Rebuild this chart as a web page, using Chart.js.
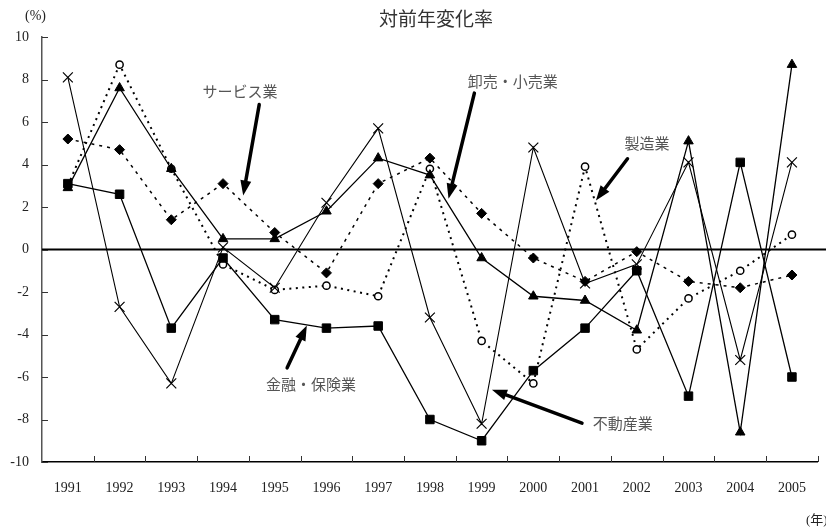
<!DOCTYPE html>
<html>
<head>
<meta charset="utf-8">
<script src="https://cdn.jsdelivr.net/npm/chart.js@4.4.1/dist/chart.umd.min.js"></script>
<style>
  html, body { margin: 0; padding: 0; background: #fff; }
  canvas { display: block; }
</style>
</head>
<body>
<canvas id="chart" width="826" height="531"></canvas>
<script>
// Year-over-year change (%) by industry, 1991–2005
const years = ['1991','1992','1993','1994','1995','1996','1997','1998','1999','2000','2001','2002','2003','2004','2005'];
const manufacturing   = [3.0, 8.7, 3.8, -0.7, -1.9, -1.7, -2.2, 3.8, -4.3, -6.3, 3.9, -4.7, -2.3, -1.0, 0.7];   // 製造業
const services        = [5.2, 4.7, 1.4, 3.1, 0.8, -1.1, 3.1, 4.3, 1.7, -0.4, -1.5, -0.1, -1.5, -1.8, -1.2];   // サービス業
const wholesaleRetail = [2.9, 7.6, 3.8, 0.5, 0.5, 1.8, 4.3, 3.5, -0.4, -2.2, -2.4, -3.8, 5.1, -8.6, 8.7];     // 卸売・小売業
const finance         = [3.1, 2.6, -3.7, -0.4, -3.3, -3.7, -3.6, -8.0, -9.0, -5.7, -3.7, -1.0, -6.9, 4.1, -6.0]; // 金融・保険業
const realEstate      = [8.1, -2.7, -6.3, 0.1, -1.8, 2.2, 5.7, -3.2, -8.2, 4.8, -1.6, -0.7, 4.1, -5.2, 4.1];   // 不動産業
const yTickValues     = [-10, -8, -6, -4, -2, 0, 2, 4, 6, 8, 10];

// Callout labels with arrows, placed in data coordinates [category index, value]
const callouts = [
  { text: 'サービス業',   label: [3.33, 7.44],  tail: [3.70, 6.82],  tip: [3.39, 2.54] },
  { text: '卸売・小売業', label: [8.60, 7.92],  tail: [7.86, 7.36],  tip: [7.36, 2.39] },
  { text: '製造業',       label: [11.20, 5.02], tail: [10.82, 4.27], tip: [10.21, 2.31] },
  { text: '金融・保険業', label: [4.70, -6.35], tail: [4.24, -5.57], tip: [4.62, -3.58] },
  { text: '不動産業',     label: [10.73, -8.20], tail: [9.94, -8.17], tip: [8.20, -6.60] }
];

const JP = "'Noto Sans CJK JP', 'Noto Sans', sans-serif";
const NUM = "'Liberation Serif', 'DejaVu Serif', serif";

const decorations = {
  id: 'decorations',
  afterDraw(chart) {
    const { ctx, chartArea: a, scales: { x, y } } = chart;
    ctx.save();

    // zero reference line
    const y0 = y.getPixelForValue(0);
    ctx.strokeStyle = '#000';
    ctx.lineWidth = 2.2;
    ctx.beginPath();
    ctx.moveTo(a.left, y0);
    ctx.lineTo(chart.width, y0);
    ctx.stroke();

    // inward tick marks on the value axis
    ctx.lineWidth = 1;
    ctx.strokeStyle = '#333';
    yTickValues.forEach(v => {
      const py = Math.round(y.getPixelForValue(v)) + 0.5;
      ctx.beginPath();
      ctx.moveTo(a.left, py);
      ctx.lineTo(a.left + 6, py);
      ctx.stroke();
    });
    // inward tick marks on the year axis, between categories
    for (let i = 0; i < years.length; i++) {
      const px = i < years.length - 1
        ? (x.getPixelForValue(i) + x.getPixelForValue(i + 1)) / 2
        : a.right;
      const rx = Math.round(px) + 0.5;
      ctx.beginPath();
      ctx.moveTo(rx, a.bottom);
      ctx.lineTo(rx, a.bottom - 6);
      ctx.stroke();
    }

    // callout arrows
    ctx.fillStyle = '#000';
    ctx.strokeStyle = '#000';
    callouts.forEach(c => {
      const tx = x.getPixelForValue(c.tail[0]), ty = y.getPixelForValue(c.tail[1]);
      const hx = x.getPixelForValue(c.tip[0]),  hy = y.getPixelForValue(c.tip[1]);
      const ang = Math.atan2(hy - ty, hx - tx);
      const headLen = 15, headHalf = 5.5;
      const bx = hx - headLen * Math.cos(ang), by = hy - headLen * Math.sin(ang);
      ctx.lineWidth = 3.5;
      ctx.lineCap = 'round';
      ctx.beginPath();
      ctx.moveTo(tx, ty);
      ctx.lineTo(bx, by);
      ctx.stroke();
      ctx.beginPath();
      ctx.moveTo(hx, hy);
      ctx.lineTo(bx + headHalf * Math.sin(ang), by - headHalf * Math.cos(ang));
      ctx.lineTo(bx - headHalf * Math.sin(ang), by + headHalf * Math.cos(ang));
      ctx.closePath();
      ctx.fill();
    });

    // callout labels
    ctx.fillStyle = '#555';
    ctx.font = `15px ${JP}`;
    ctx.textAlign = 'center';
    ctx.textBaseline = 'middle';
    callouts.forEach(c => {
      ctx.fillText(c.text, x.getPixelForValue(c.label[0]), y.getPixelForValue(c.label[1]));
    });

    // title and unit labels
    ctx.fillStyle = '#333';
    ctx.font = `19px ${JP}`;
    ctx.fillText('対前年変化率', 436, 19);
    ctx.fillStyle = '#222';
    ctx.font = `14px ${NUM}`;
    ctx.textAlign = 'left';
    ctx.fillText('(%)', 25, 16);
    ctx.font = `13px ${NUM}, ${JP}`;
    ctx.fillText('(年)', 806, 521);

    ctx.restore();
  }
};

const lineBase = { borderColor: '#000', pointBorderColor: '#000', pointBackgroundColor: '#000', tension: 0 };

new Chart(document.getElementById('chart'), {
  type: 'line',
  data: {
    labels: years,
    datasets: [
      { ...lineBase, label: '製造業', data: manufacturing, borderWidth: 2, borderDash: [2, 4.5], order: 5,
        pointStyle: 'circle', pointRadius: 3.6, pointBorderWidth: 1.5, pointBackgroundColor: '#fff' },
      { ...lineBase, label: 'サービス業', data: services, borderWidth: 1.5, borderDash: [3, 5], order: 4,
        pointStyle: 'rectRot', pointRadius: 5, pointBorderWidth: 1 },
      { ...lineBase, label: '卸売・小売業', data: wholesaleRetail, borderWidth: 1.3, order: 3,
        pointStyle: 'triangle', pointRadius: 5.5, pointBorderWidth: 1 },
      { ...lineBase, label: '金融・保険業', data: finance, borderWidth: 1.3, order: 2,
        pointStyle: 'rect', pointRadius: 6, pointBorderWidth: 1 },
      { ...lineBase, label: '不動産業', data: realEstate, borderWidth: 1.1, order: 1,
        pointStyle: 'crossRot', pointRadius: 7, pointBorderWidth: 1.2 }
    ]
  },
  options: {
    responsive: false,
    animation: false,
    devicePixelRatio: 1,
    layout: { padding: { top: 37, right: 8, left: 0, bottom: 0 } },
    plugins: {
      legend: { display: false },
      title: { display: false },
      tooltip: { enabled: false }
    },
    scales: {
      x: {
        type: 'category',
        offset: true,
        grid: { display: false, drawTicks: false },
        border: { display: true, color: '#000', width: 1.5 },
        ticks: { color: '#222', font: { family: NUM, size: 14 }, padding: 18, maxRotation: 0, autoSkip: false },
        afterFit(scale) { scale.height = 69; }
      },
      y: {
        min: -10,
        max: 10,
        afterBuildTicks(scale) { scale.ticks = yTickValues.map(v => ({ value: v })); },
        grid: { display: false, drawTicks: false },
        border: { display: true, color: '#555', width: 1.5 },
        ticks: { color: '#222', font: { family: NUM, size: 14 }, padding: 13 },
        afterFit(scale) { scale.width = 42; }
      }
    }
  },
  plugins: [decorations]
});
</script>
</body>
</html>
